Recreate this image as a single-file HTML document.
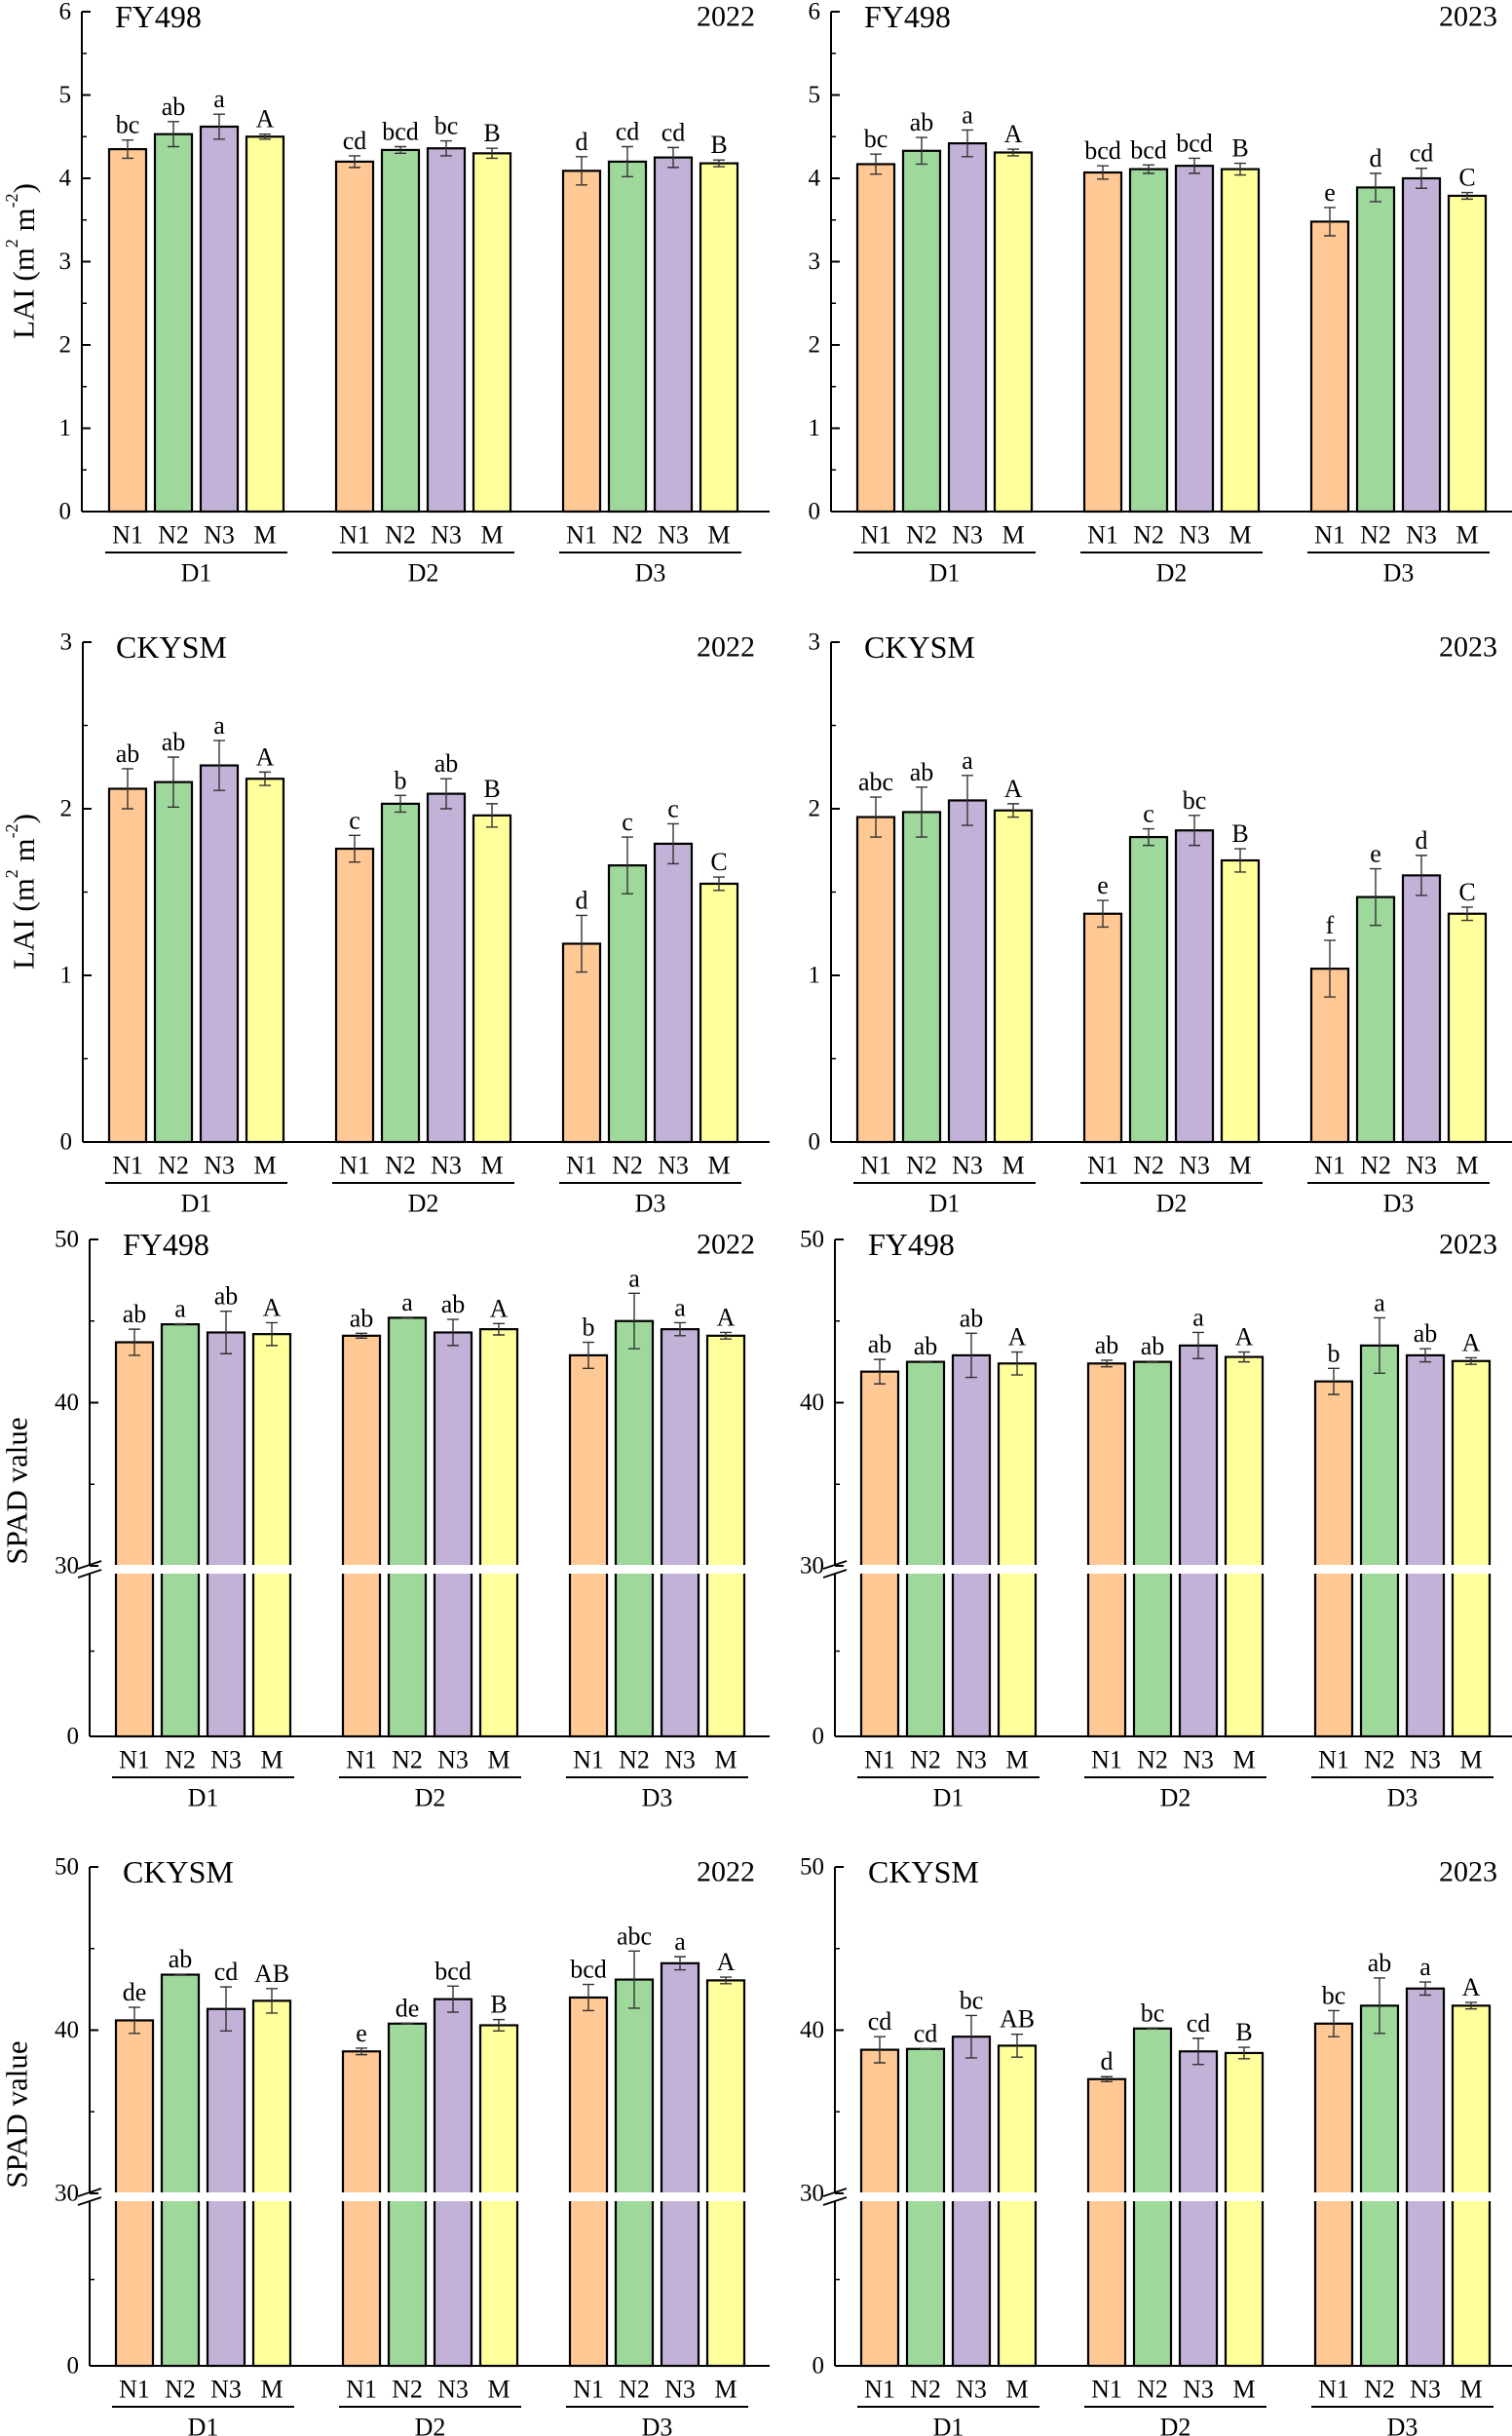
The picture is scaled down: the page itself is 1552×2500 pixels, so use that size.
<!DOCTYPE html>
<html><head><meta charset="utf-8"><style>
html,body{margin:0;padding:0;background:#fff;}
svg{display:block;font-family:"Liberation Serif",serif;}
</style></head><body>
<svg id="fig" width="1552" height="2500" viewBox="0 0 1552 2500" xmlns="http://www.w3.org/2000/svg">
<rect width="1552" height="2500" fill="#fff"/>
<text transform="translate(24,268) rotate(-90)" text-anchor="middle" dominant-baseline="central" font-size="31">LAI (m<tspan font-size="18" dy="-12">2</tspan><tspan dy="12"> m</tspan><tspan font-size="18" dy="-12">-2</tspan><tspan dy="12">)</tspan></text>
<text transform="translate(24,915) rotate(-90)" text-anchor="middle" dominant-baseline="central" font-size="31">LAI (m<tspan font-size="18" dy="-12">2</tspan><tspan dy="12"> m</tspan><tspan font-size="18" dy="-12">-2</tspan><tspan dy="12">)</tspan></text>
<text transform="translate(17,1530) rotate(-90)" text-anchor="middle" dominant-baseline="central" font-size="31">SPAD value</text>
<text transform="translate(17,2170) rotate(-90)" text-anchor="middle" dominant-baseline="central" font-size="31">SPAD value</text>
</svg>
<script>
const groups = ["D1","D2","D3"];
const treatments = ["N1","N2","N3","M"];
const colors = ["#FFC894","#9ED99B","#C3B2D7","#FFFF9C"];

const laiFY2022 = [4.35,4.53,4.62,4.50, 4.20,4.34,4.36,4.30, 4.09,4.20,4.25,4.18];
const laiFY2022Err = [0.11,0.15,0.15,0.03, 0.07,0.04,0.09,0.06, 0.17,0.18,0.12,0.04];
const laiFY2022Let = ["bc","ab","a","A","cd","bcd","bc","B","d","cd","cd","B"];

const laiFY2023 = [4.17,4.33,4.42,4.31, 4.07,4.11,4.15,4.11, 3.48,3.89,4.00,3.79];
const laiFY2023Err = [0.12,0.16,0.16,0.04, 0.08,0.05,0.09,0.07, 0.17,0.17,0.12,0.04];
const laiFY2023Let = ["bc","ab","a","A","bcd","bcd","bcd","B","e","d","cd","C"];

const laiCK2022 = [2.12,2.16,2.26,2.18, 1.76,2.03,2.09,1.96, 1.19,1.66,1.79,1.55];
const laiCK2022Err = [0.12,0.15,0.15,0.04, 0.08,0.05,0.09,0.07, 0.17,0.17,0.12,0.04];
const laiCK2022Let = ["ab","ab","a","A","c","b","ab","B","d","c","c","C"];

const laiCK2023 = [1.95,1.98,2.05,1.99, 1.37,1.83,1.87,1.69, 1.04,1.47,1.60,1.37];
const laiCK2023Err = [0.12,0.15,0.15,0.04, 0.08,0.05,0.09,0.07, 0.17,0.17,0.12,0.04];
const laiCK2023Let = ["abc","ab","a","A","e","c","bc","B","f","e","d","C"];

const spadFY2022 = [43.7,44.8,44.3,44.2, 44.1,45.2,44.3,44.5, 42.9,45.0,44.5,44.1];
const spadFY2022Err = [0.8,0.03,1.3,0.7, 0.15,0.03,0.8,0.35, 0.8,1.7,0.4,0.2];
const spadFY2022Let = ["ab","a","ab","A","ab","a","ab","A","b","a","a","A"];

const spadFY2023 = [41.9,42.5,42.9,42.4, 42.4,42.5,43.5,42.8, 41.3,43.5,42.9,42.55];
const spadFY2023Err = [0.75,0.03,1.35,0.7, 0.2,0.03,0.8,0.3, 0.8,1.7,0.4,0.2];
const spadFY2023Let = ["ab","ab","ab","A","ab","ab","a","A","b","a","ab","A"];

const spadCK2022 = [40.6,43.4,41.3,41.8, 38.7,40.4,41.9,40.3, 42.0,43.1,44.1,43.05];
const spadCK2022Err = [0.8,0.03,1.35,0.75, 0.2,0.03,0.8,0.35, 0.8,1.75,0.4,0.2];
const spadCK2022Let = ["de","ab","cd","AB","e","de","bcd","B","bcd","abc","a","A"];

const spadCK2023 = [38.8,38.85,39.6,39.05, 37.0,40.1,38.7,38.6, 40.4,41.5,42.55,41.5];
const spadCK2023Err = [0.8,0.03,1.3,0.7, 0.15,0.03,0.8,0.35, 0.8,1.7,0.4,0.2];
const spadCK2023Let = ["cd","cd","bc","AB","d","bc","cd","B","bc","ab","a","A"];

const laiTicks = [0,1,2,3,4,5,6];
const laiTicks3 = [0,1,2,3];
const spadTicks = [0,30,40,50];

const NS = "http://www.w3.org/2000/svg";
const svg = document.getElementById("fig");
function mk(tag, attrs, parent){
  const e = document.createElementNS(NS, tag);
  for (const k in attrs) e.setAttribute(k, attrs[k]);
  (parent||svg).appendChild(e);
  return e;
}

const panels = [
 {id:"lai-fy498-2022",type:"lai",max:6,ticks:laiTicks,ax:84,xEnd:790,yTop:12,y0:525,bx:112,title:"FY498",year:"2022",v:laiFY2022,e:laiFY2022Err,l:laiFY2022Let},
 {id:"lai-fy498-2023",type:"lai",max:6,ticks:laiTicks,ax:853,xEnd:1552,yTop:12,y0:525,bx:880,title:"FY498",year:"2023",v:laiFY2023,e:laiFY2023Err,l:laiFY2023Let},
 {id:"lai-ckysm-2022",type:"lai",max:3,ticks:laiTicks3,ax:85,xEnd:790,yTop:659,y0:1172,bx:112,title:"CKYSM",year:"2022",v:laiCK2022,e:laiCK2022Err,l:laiCK2022Let},
 {id:"lai-ckysm-2023",type:"lai",max:3,ticks:laiTicks3,ax:853,xEnd:1552,yTop:659,y0:1172,bx:880,title:"CKYSM",year:"2023",v:laiCK2023,e:laiCK2023Err,l:laiCK2023Let},
 {id:"spad-fy498-2022",type:"spad",ticks:spadTicks,ax:92,xEnd:790,yTop:1272,y30:1607,y0:1782,bx:119,title:"FY498",year:"2022",v:spadFY2022,e:spadFY2022Err,l:spadFY2022Let},
 {id:"spad-fy498-2023",type:"spad",ticks:spadTicks,ax:857,xEnd:1552,yTop:1272,y30:1607,y0:1782,bx:884,title:"FY498",year:"2023",v:spadFY2023,e:spadFY2023Err,l:spadFY2023Let},
 {id:"spad-ckysm-2022",type:"spad",ticks:spadTicks,ax:92,xEnd:790,yTop:1916,y30:2251,y0:2428,bx:119,title:"CKYSM",year:"2022",v:spadCK2022,e:spadCK2022Err,l:spadCK2022Let},
 {id:"spad-ckysm-2023",type:"spad",ticks:spadTicks,ax:857,xEnd:1552,yTop:1916,y30:2251,y0:2428,bx:884,title:"CKYSM",year:"2023",v:spadCK2023,e:spadCK2023Err,l:spadCK2023Let}
];

const BW = 38, STEP = 47, GSTEP = 233;

panels.forEach(p => {
  const g = mk("g", {});
  
  
  const yScale = v => {
    if (p.type === "lai") return p.y0 - v * (p.y0 - p.yTop) / p.max;
    if (v >= 30) return p.y30 - (v - 30) * (p.y30 - p.yTop) / 20;
    return p.y0 - v * (p.y0 - p.y30) / 30;
  };
  const xBar = (gi, ti) => p.bx + gi * GSTEP + ti * STEP;

  p.v.forEach((val, i) => {
    const gi = Math.floor(i / 4), ti = i % 4;
    const x = xBar(gi, ti), y = yScale(val);
    const r = mk("rect", {x:x, y:y, width:BW, height:p.y0 - y, fill:colors[ti], stroke:"#000", "stroke-width":2.2}, g);
    
    
    const cx = x + BW / 2;
    const yt = yScale(val + p.e[i]), yb = yScale(val - p.e[i]);
    const eb = mk("path", {d:`M${cx},${yt}V${yb}M${cx-6},${yt}H${cx+6}M${cx-6},${yb}H${cx+6}`, stroke:"#333", "stroke-width":1.4, fill:"none"}, g);
    
    
    const t = mk("text", {x:cx, y:yt - 7, "text-anchor":"middle", "font-size":26}, g);
    t.textContent = p.l[i];
    
    
  });

  if (p.type === "spad") {
    const br = mk("rect", {x:p.ax - 8, y:p.y30 - 1, width:p.xEnd - p.ax + 8, height:9, fill:"#fff"}, g);
    
    
    const bm = mk("path", {d:`M${p.ax-12},${p.y30+3}L${p.ax+12},${p.y30-5}M${p.ax-12},${p.y30+12}L${p.ax+12},${p.y30+4}`, stroke:"#000", "stroke-width":1.8, fill:"none"}, g);
    
    
  }

  const yAxisPath = p.type === "spad"
    ? `M${p.ax},${p.yTop}V${p.y30-1}M${p.ax},${p.y30+8}V${p.y0}`
    : `M${p.ax},${p.yTop}V${p.y0}`;
  const ya = mk("path", {d:yAxisPath, stroke:"#000", "stroke-width":2, fill:"none"}, g);
  
  
  const xa = mk("line", {x1:p.ax, y1:p.y0, x2:p.xEnd, y2:p.y0, stroke:"#000", "stroke-width":2}, g);
  
  

  p.ticks.forEach(tv => {
    const y = yScale(tv);
    const tk = mk("line", {x1:p.ax, y1:y, x2:p.ax + 9, y2:y, stroke:"#000", "stroke-width":2}, g);
    
    
    const tl = mk("text", {x:p.ax - 11, y:y, "text-anchor":"end", "dominant-baseline":"central", "font-size":25}, g);
    tl.textContent = tv;
    
    
  });
  const minors = p.type === "lai" ? p.ticks.slice(0, -1).map(t => t + 0.5) : [15, 35, 45];
  minors.forEach(tv => {
    const y = yScale(tv);
    const mt = mk("line", {x1:p.ax, y1:y, x2:p.ax + 5, y2:y, stroke:"#000", "stroke-width":1.5}, g);
    
    
  });

  groups.forEach((gname, gi) => {
    treatments.forEach((tn, ti) => {
      const t = mk("text", {x:xBar(gi, ti) + BW / 2, y:p.y0 + 24, "text-anchor":"middle", "dominant-baseline":"central", "font-size":26}, g);
      t.textContent = tn;
      
      
    });
    const x1 = xBar(gi, 0) - 4, x2 = xBar(gi, 3) + BW + 4;
    const gl = mk("line", {x1:x1, y1:p.y0 + 42, x2:x2, y2:p.y0 + 42, stroke:"#000", "stroke-width":2}, g);
    
    
    const dt = mk("text", {x:(x1 + x2) / 2, y:p.y0 + 63, "text-anchor":"middle", "dominant-baseline":"central", "font-size":26}, g);
    dt.textContent = gname;
    
    
  });

  const tt = mk("text", {x:p.ax + 34, y:p.yTop + 5, "dominant-baseline":"central", "font-size":32}, g);
  tt.textContent = p.title;
  
  
  const yr = mk("text", {x:p.xEnd - 15, y:p.yTop + 5, "text-anchor":"end", "dominant-baseline":"central", "font-size":30}, g);
  yr.textContent = p.year;
  
  
});
</script>
</body></html>
